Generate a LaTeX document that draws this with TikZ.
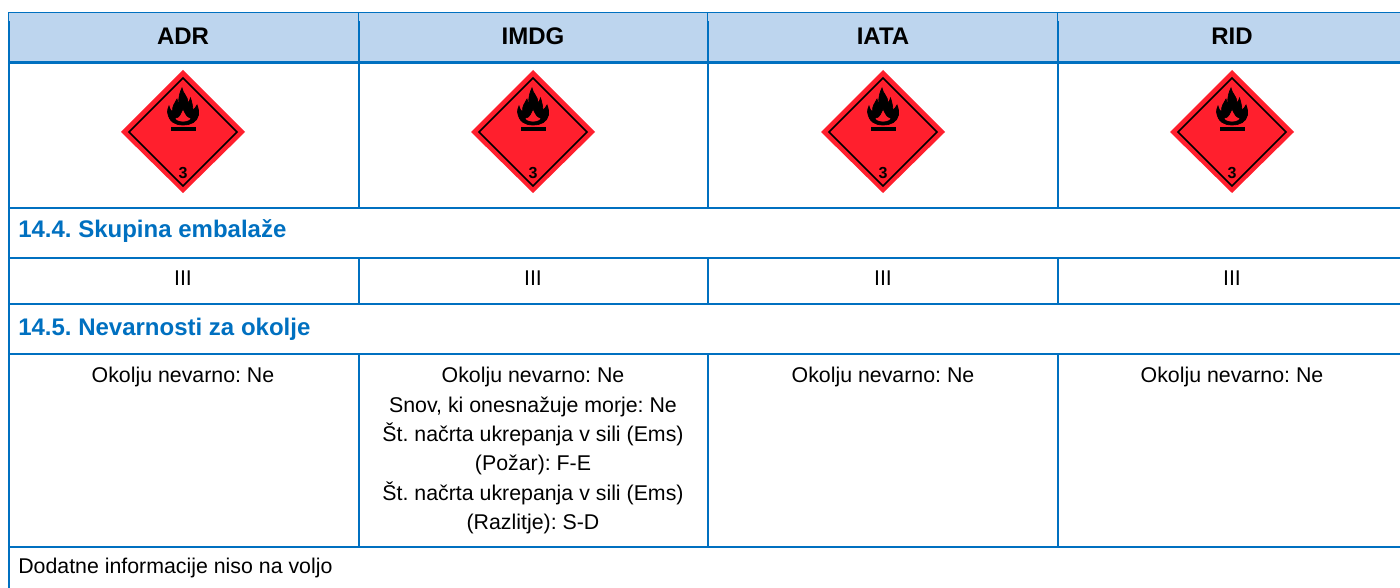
\documentclass[tikz,border=0pt]{standalone}
\usepackage{fontspec}
\setmainfont{Liberation Sans}
\frenchspacing
\definecolor{lineblue}{HTML}{0070C0}
\definecolor{headfill}{HTML}{BDD5EE}
\definecolor{placardred}{HTML}{FF1F2D}
\tikzset{
  x=0.75pt,y=-0.75pt,
  rule/.style={draw=lineblue,line width=1.7pt},
  thinrule/.style={draw=lineblue,line width=0.8pt},
  headtext/.style={font=\fontsize{18}{22}\selectfont\bfseries,text=black,inner sep=0pt,anchor=center},
  sectext/.style={font=\fontsize{18}{22}\selectfont\bfseries,text=lineblue,inner sep=0pt,anchor=west},
  celltext/.style={font=\fontsize{16}{22}\selectfont,text=black,inner sep=0pt,anchor=north,align=center},
  plaintext/.style={font=\fontsize{16}{22}\selectfont,text=black,inner sep=0pt,anchor=west},
  placard/.pic={
    \fill[placardred] (0,-62) -- (62,0) -- (0,61) -- (-62,0) -- cycle;
    \draw[black,line width=1.1pt,line join=miter] (0,-54) -- (54,0) -- (0,54) -- (-54,0) -- cycle;
    \fill[black] (-12.5,-4.5) rectangle (13,-1.3);
    \fill[black,draw=black,line width=0.5pt,even odd rule]
      (0,-7) .. controls (-8,-7) and (-14,-10) .. (-15.5,-20)
      .. controls (-15.5,-22) and (-15,-24) .. (-14,-26)
      .. controls (-13.5,-23) and (-12,-21) .. (-10.5,-20)
      .. controls (-11,-26) and (-8,-29) .. (-6,-33)
      .. controls (-5.5,-31) and (-5,-29) .. (-4,-28)
      .. controls (-5,-34) and (-3,-40) .. (-1,-44)
      .. controls (0,-38) and (5,-36) .. (5,-29)
      .. controls (6,-30) and (7,-32) .. (7.5,-34)
      .. controls (9,-30) and (9.5,-26) .. (10,-22)
      .. controls (11.5,-23) and (13,-25) .. (14,-27)
      .. controls (15.5,-23) and (16,-20) .. (15.5,-17)
      .. controls (14,-10) and (8,-7) .. (0,-7) -- cycle
      (0,-10) .. controls (-5,-10) and (-8,-12) .. (-8,-14)
      .. controls (-6,-14) and (-4,-15) .. (-3,-17)
      .. controls (-2,-19) and (-1,-21) .. (0,-23)
      .. controls (1,-20) and (3,-18) .. (4,-16)
      .. controls (5,-15) and (7,-14) .. (8,-14)
      .. controls (8,-12) and (5,-10) .. (0,-10) -- cycle;
    \node[font=\fontsize{12}{14}\selectfont\bfseries,text=black,inner sep=0pt] at (0,41) {3};
  }
}
\begin{document}
\begin{tikzpicture}
\useasboundingbox (0,0) rectangle (1400,588);
% header band
\fill[headfill] (9,13) rectangle (1400,62);
% horizontal rules
\draw[thinrule] (8.5,12.5) -- (1400,12.5);
\foreach \yy in {62.5,208,258,304,354,547}{\draw[rule] (9,\yy) -- (1400,\yy);}
% vertical rules
\draw[rule] (9,21) -- (9,588);
\draw[thinrule] (8.5,12.5) -- (8.5,21);
\foreach \xx in {359,708,1058}{
  \draw[thinrule] (\xx-0.5,12.5) -- (\xx-0.5,21);
  \draw[rule] (\xx,21) -- (\xx,208);
  \draw[rule] (\xx,258) -- (\xx,304);
  \draw[rule] (\xx,354) -- (\xx,547);
}
% headers
\node[headtext] (hadr) at (183,36) {ADR};
\node[headtext] (himdg) at (533,36) {IMDG};
\node[headtext] (hiata) at (883,36) {IATA};
\node[headtext] (hrid) at (1232,36) {RID};
% placards
\pic at (183,132) {placard};
\pic at (533,132) {placard};
\pic at (883,132) {placard};
\pic at (1232,132) {placard};
% sections
\node[sectext] (s144) at (18,231) {14.4. Skupina embalaže};
\node[sectext] (s145) at (18,329) {14.5. Nevarnosti za okolje};
% III row
\node[celltext,anchor=center] (g1) at (183,278) {III};
\node[celltext,anchor=center] (g2) at (533,278) {III};
\node[celltext,anchor=center] (g3) at (883,278) {III};
\node[celltext,anchor=center] (g4) at (1232,278) {III};
% environment cells
\node[celltext] (e1) at (183,367) {Okolju nevarno: Ne};
\node[celltext] (e2) at (533,367) {Okolju nevarno: Ne\\Snov, ki onesnažuje morje: Ne\\Št. načrta ukrepanja v sili (Ems)\\(Požar): F-E\\Št. načrta ukrepanja v sili (Ems)\\(Razlitje): S-D};
\node[celltext] (e3) at (883,367) {Okolju nevarno: Ne};
\node[celltext] (e4) at (1232,367) {Okolju nevarno: Ne};
\node[plaintext] (extra) at (18,568) {Dodatne informacije niso na voljo};
\end{tikzpicture}
\end{document}
